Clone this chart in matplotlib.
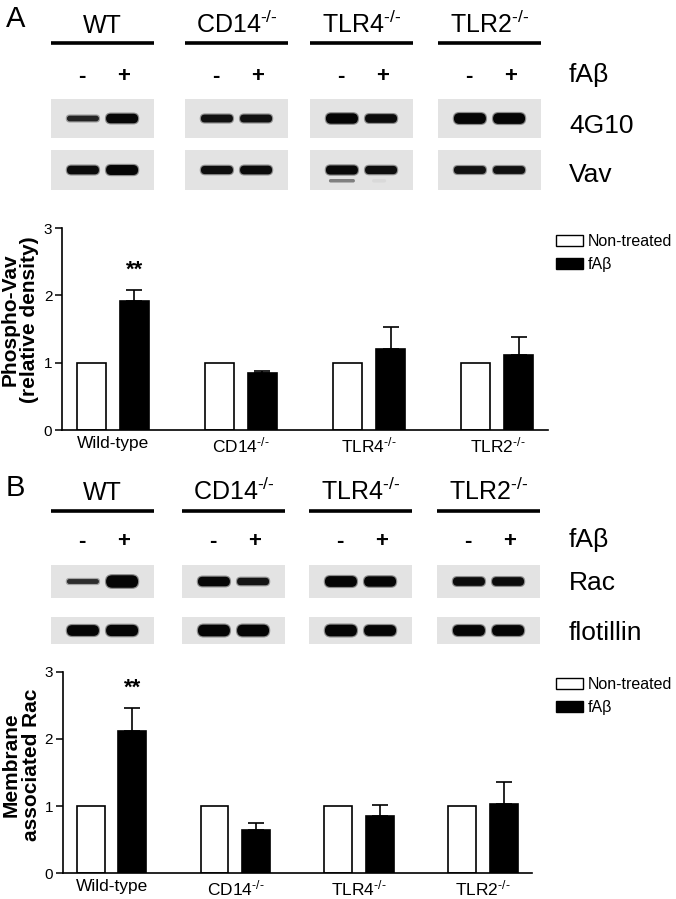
import numpy as np
import matplotlib
matplotlib.use("Agg")
import matplotlib.pyplot as plt
from matplotlib.patches import FancyBboxPatch, Rectangle, Patch

plt.rcParams['font.family'] = ['Liberation Sans', 'DejaVu Sans']
plt.rcParams['mathtext.fontset'] = 'custom'
plt.rcParams['mathtext.rm'] = 'Liberation Sans'
plt.rcParams['mathtext.it'] = 'Liberation Sans'
plt.rcParams['mathtext.bf'] = 'Liberation Sans:bold'

# ---- data ----
blot_groups = ['WT', r'CD14$^{\text{-/-}}$', r'TLR4$^{\text{-/-}}$', r'TLR2$^{\text{-/-}}$']
treatment = ['-', '+']
bar_groups = ['Wild-type', r'CD14$^{\text{-/-}}$', r'TLR4$^{\text{-/-}}$', r'TLR2$^{\text{-/-}}$']

# relative band density per group, (untreated, fAb)
band_4g10 = [[0.20, 0.65], [0.45, 0.45], [0.75, 0.55], [0.80, 0.80]]
band_vav = [[0.55, 0.70], [0.50, 0.55], [0.60, 0.50], [0.45, 0.45]]
band_vav_lower = [[0.0, 0.0], [0.0, 0.0], [0.5, 0.15], [0.0, 0.0]]
band_rac = [[0.10, 1.00], [0.65, 0.40], [0.80, 0.75], [0.55, 0.55]]
band_flot = [[0.80, 0.85], [0.90, 0.90], [0.90, 0.80], [0.80, 0.80]]

vav_ctrl = [1, 1, 1, 1]
vav_fab = [1.91, 0.84, 1.21, 1.11]
vav_sem = [0.17, 0.04, 0.325, 0.27]

rac_ctrl = [1, 1, 1, 1]
rac_fab = [2.12, 0.64, 0.85, 1.03]
rac_sem = [0.34, 0.11, 0.16, 0.33]

W, H = 676, 899
fig = plt.figure(figsize=(W / 100, H / 100), dpi=100)
ov = fig.add_axes([0, 0, 1, 1])
ov.set_xlim(0, W)
ov.set_ylim(H, 0)
ov.axis('off')


def band(cx, cy, w, t, dens):
    g = max(0.02, 0.22 * (1 - dens) ** 2)
    halo = FancyBboxPatch((cx - w / 2 - 1.2, cy - t / 2 - 1.2), w + 2.4, t + 2.4,
                          boxstyle=f"round,pad=0,rounding_size={t / 2 + 1.2}",
                          fc=str(min(1, g + 0.3)), ec='none', alpha=0.6)
    ov.add_patch(halo)
    p = FancyBboxPatch((cx - w / 2, cy - t / 2), w, t,
                       boxstyle=f"round,pad=0,rounding_size={t / 2}",
                       fc=str(g), ec='none')
    ov.add_patch(p)


def blot_panel(letter, letter_y, lefts, label_base, line_y, sign_base, rows, row_data):
    box_w = 103
    ov.text(6, letter_y, letter, fontsize=21, va='center', ha='left')
    for gi, left in enumerate(lefts):
        cx = left + box_w / 2
        ov.text(cx, label_base, blot_groups[gi], fontsize=18, ha='center', va='baseline')
        ov.plot([left, left + box_w], [line_y, line_y], color='black', lw=2.6,
                solid_capstyle='butt')
        for li, s in enumerate(treatment):
            lx = left + (0.30 + 0.40 * li) * box_w
            ov.text(lx, sign_base, s, fontsize=16, fontweight='bold', ha='center', va='baseline')
        for (top, bot, name, lbl_base), dens in zip(rows, row_data):
            ov.add_patch(Rectangle((left, top), box_w, bot - top, fc='#e3e3e3', ec='none'))
            cy = (top + bot) / 2
            for li in range(2):
                lx = left + (0.31 + 0.38 * li) * box_w
                d = dens[gi][li]
                band(lx, cy, 32, 4 + 8.5 * d, d)
    ov.text(569, sign_base, 'fAβ', fontsize=19, ha='left', va='baseline')
    for top, bot, name, lbl_base in rows:
        ov.text(569, lbl_base, name, fontsize=19, ha='left', va='baseline')


# panel A blots
lefts_a = [51, 185, 310, 438]
rows_a = [(99, 138, '4G10', 133), (150, 190, 'Vav', 182)]
blot_panel('A', 19, lefts_a, 33, 43, 82, rows_a, [band_4g10, band_vav])
# faint lower Vav band in TLR4 lanes
for li in range(2):
    d = band_vav_lower[2][li]
    lx = lefts_a[2] + (0.31 + 0.38 * li) * 103
    ov.add_patch(FancyBboxPatch((lx - 13 + 4 * li, 179), 26 - 12 * li, 3.5,
                                boxstyle="round,pad=0,rounding_size=1.7",
                                fc=str(1 - 1.0 * d), ec='none'))

# panel B blots
lefts_b = [51, 182, 309, 437]
rows_b = [(565, 598, 'Rac', 590), (617, 644, 'flotillin', 640)]
blot_panel('B', 488, lefts_b, 500, 511, 547, rows_b, [band_rac, band_flot])


def bar_panel(rect, ctrl, fab, sem, ylabel, label_y, legend_top):
    ax = fig.add_axes(rect)
    x = np.arange(len(bar_groups))
    bw, off = 0.225, 0.168
    ax.bar(x - off, ctrl, bw, color='white', edgecolor='black', linewidth=1.2, zorder=2)
    ax.bar(x + off, fab, bw, color='black', edgecolor='black', linewidth=1.2, zorder=2)
    ax.errorbar(x + off, fab, yerr=[np.zeros(len(fab)), sem], fmt='none', ecolor='black',
                elinewidth=1.2, capsize=6, capthick=1.2, zorder=1)
    ax.text(x[0] + off, fab[0] + sem[0] + 0.29, '**', fontsize=16, fontweight='bold',
            ha='center', va='center')
    ax.set_xlim(-0.395, 3.395)
    ax.set_ylim(0, 3)
    ax.set_yticks([0, 1, 2, 3])
    ax.set_xticks(x)
    ax.set_xticklabels(bar_groups, fontsize=12.5)
    ax.tick_params(axis='x', length=0, pad=4)
    ax.tick_params(axis='y', length=5, width=1.1, labelsize=11, pad=2)
    for s in ['top', 'right']:
        ax.spines[s].set_visible(False)
    for s in ['left', 'bottom']:
        ax.spines[s].set_linewidth(1.2)
    ax.set_ylabel(ylabel, fontsize=15, fontweight='bold', linespacing=1.05)
    ax.yaxis.set_label_coords(-0.047, label_y)
    handles = [Patch(facecolor='white', edgecolor='black', linewidth=1.0),
               Patch(facecolor='black', edgecolor='black', linewidth=1.0)]
    fig.legend(handles, ['Non-treated', 'fAβ'], loc='upper left',
               bbox_to_anchor=(556 / W, 1 - legend_top / H), frameon=False,
               fontsize=11.5, handlelength=1.7, handleheight=0.66, handletextpad=0.3,
               labelspacing=0.5, borderpad=0, borderaxespad=0)
    return ax


bar_panel([62 / W, 1 - 430 / H, 486 / W, 202 / H], vav_ctrl, vav_fab, vav_sem,
          'Phospho-Vav\n(relative density)', 0.545, 234)
bar_panel([62.7 / W, 1 - 873.3 / H, 469 / W, 201.6 / H], rac_ctrl, rac_fab, rac_sem,
          'Membrane\nassociated Rac', 0.537, 677)

fig.savefig('out.png', dpi=100)
